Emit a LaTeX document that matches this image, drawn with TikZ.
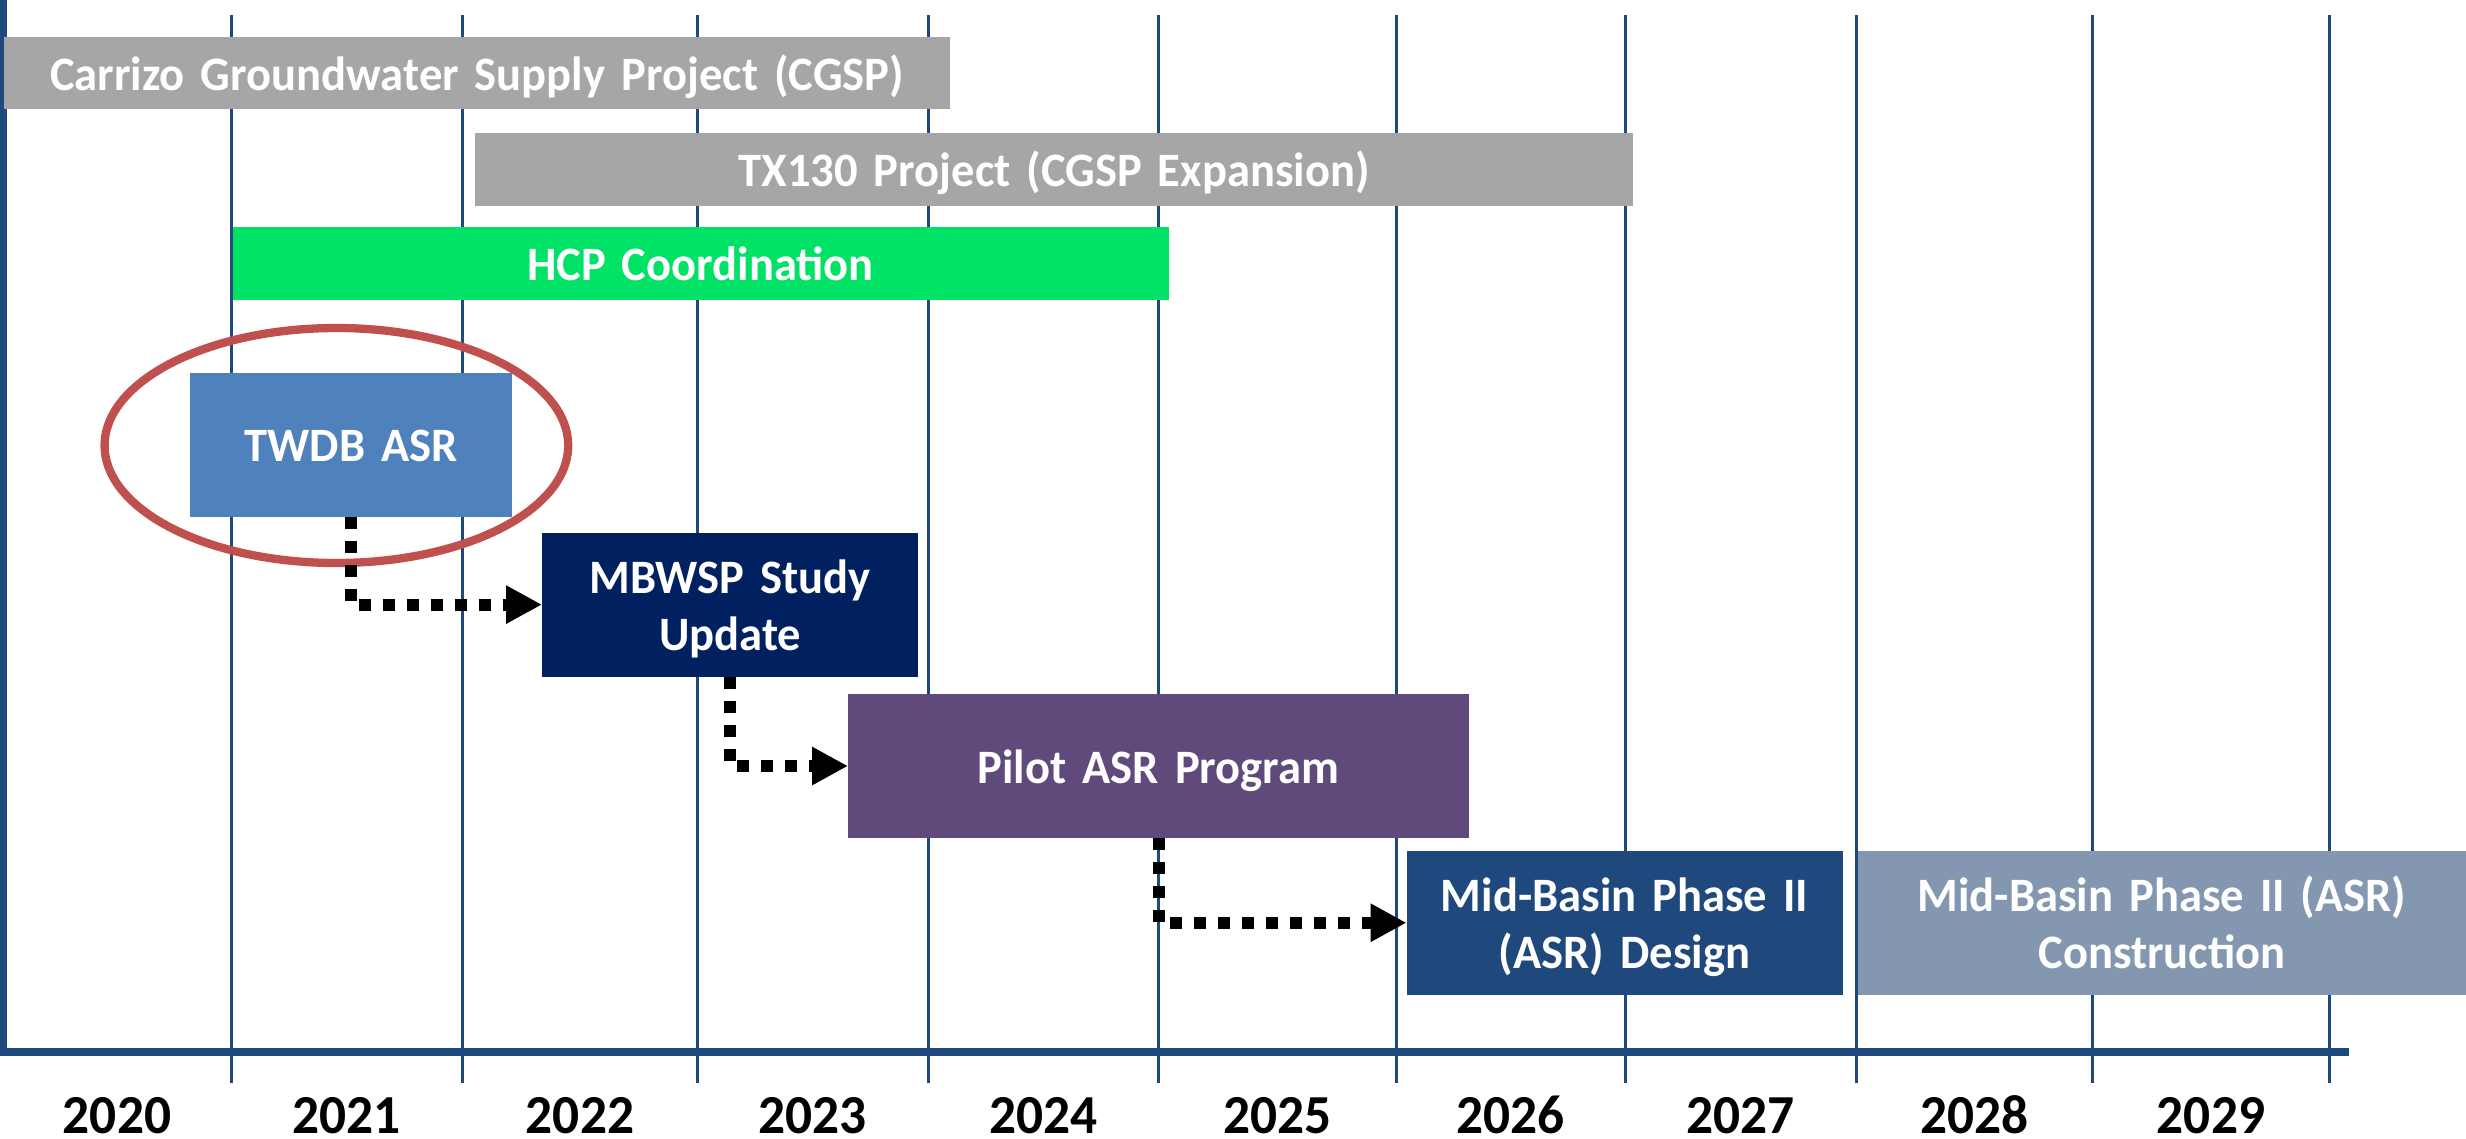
\documentclass[tikz,border=0pt]{standalone}
\usepackage{fontspec}
\setmainfont{Carlito}[FakeStretch=0.97]
\usetikzlibrary{arrows.meta}

\definecolor{gridblue}{HTML}{1F497D}
\definecolor{bargray}{HTML}{A6A6A6}
\definecolor{hcpgreen}{HTML}{00E266}
\definecolor{twdbblue}{HTML}{4F81BD}
\definecolor{studynavy}{HTML}{002060}
\definecolor{pilotplum}{HTML}{604A7B}
\definecolor{designblue}{HTML}{1F497D}
\definecolor{buildgray}{HTML}{8497B0}
\definecolor{ringred}{HTML}{C0504D}

\begin{document}
\begin{tikzpicture}[x=1pt,y=-1pt,
  bar/.style={draw=none, inner sep=0pt, outer sep=0pt, anchor=north west,
    text=white, font=\fontsize{48}{57}\selectfont\bfseries, align=center,
    text height=34pt, text depth=0pt},
  twoline/.style={text depth=57pt},
  yearlbl/.style={inner sep=0pt, anchor=base, text depth=0pt,
    font=\fontsize{55}{66}\selectfont\bfseries},
  gridline/.style={gridblue, line width=3pt},
  flow/.style={line width=12pt, dash pattern=on 12pt off 12pt,
    -{Triangle[length=36pt,width=36pt]}},
]
\useasboundingbox (0,0) rectangle (2466,1138);
\fill[white] (0,0) rectangle (2466,1138);

% year grid
\foreach \gx in {231,462.4,697.5,928,1158.5,1396,1625.3,1856.2,2092.9,2329}
  \draw[gridline] (\gx,15) -- (\gx,1083);

% axes
\draw[gridblue, line width=6.7pt] (3.3,0) -- (3.3,1052);
\draw[gridblue, line width=8pt] (0,1052) -- (2349,1052);

% long-running projects
\node (cgsp) [bar, fill=bargray, minimum width=946pt, text width=946pt, minimum height=72.6pt]
  at (4,36.7) {Carrizo Groundwater Supply Project (CGSP)};
\node (tx130) [bar, fill=bargray, minimum width=1158pt, text width=1158pt, minimum height=72.6pt]
  at (475,133) {TX130 Project (CGSP Expansion)};
\node (hcp) [bar, fill=hcpgreen, minimum width=936pt, text width=936pt, minimum height=72.6pt]
  at (232.5,227) {HCP Coordination};

% ASR sequence
\node (twdb) [bar, fill=twdbblue, minimum width=322pt, text width=322pt, minimum height=144.3pt]
  at (190,372.5) {TWDB ASR};
\node (mbwsp) [bar, twoline, fill=studynavy, minimum width=376pt, text width=376pt, minimum height=144pt]
  at (542,532.6) {MBWSP Study\\Update};
\node (pilot) [bar, fill=pilotplum, minimum width=621pt, text width=621pt, minimum height=144pt]
  at (848,694) {Pilot ASR Program};
\node (design) [bar, twoline, fill=designblue, minimum width=436pt, text width=436pt, minimum height=143.5pt]
  at (1406.5,851) {Mid-Basin Phase II\\(ASR) Design};
\node (build) [bar, twoline, fill=buildgray, minimum width=608pt, text width=608pt, minimum height=143.5pt]
  at (1858,851) {Mid-Basin Phase II (ASR)\\Construction};

% highlight ring
\draw[ringred, line width=8.3pt] (336.4,445.5) ellipse [x radius=231.8pt, y radius=117.5pt];

% hand-offs
\draw[flow] (twdb.south) |- (mbwsp.west);
\draw[flow] (mbwsp.south) |- (pilot.west);
\draw[flow] (pilot.south) |- (design.west);

% years
\node (y2020) [yearlbl] at (117,1133) {2020};
\node (y2021) [yearlbl] at (346.7,1133) {2021};
\node (y2022) [yearlbl] at (580,1133) {2022};
\node (y2023) [yearlbl] at (812.8,1133) {2023};
\node (y2024) [yearlbl] at (1043.3,1133) {2024};
\node (y2025) [yearlbl] at (1277.3,1133) {2025};
\node (y2026) [yearlbl] at (1510.7,1133) {2026};
\node (y2027) [yearlbl] at (1740.8,1133) {2027};
\node (y2028) [yearlbl] at (1974.6,1133) {2028};
\node (y2029) [yearlbl] at (2211,1133) {2029};
\end{tikzpicture}
\end{document}
